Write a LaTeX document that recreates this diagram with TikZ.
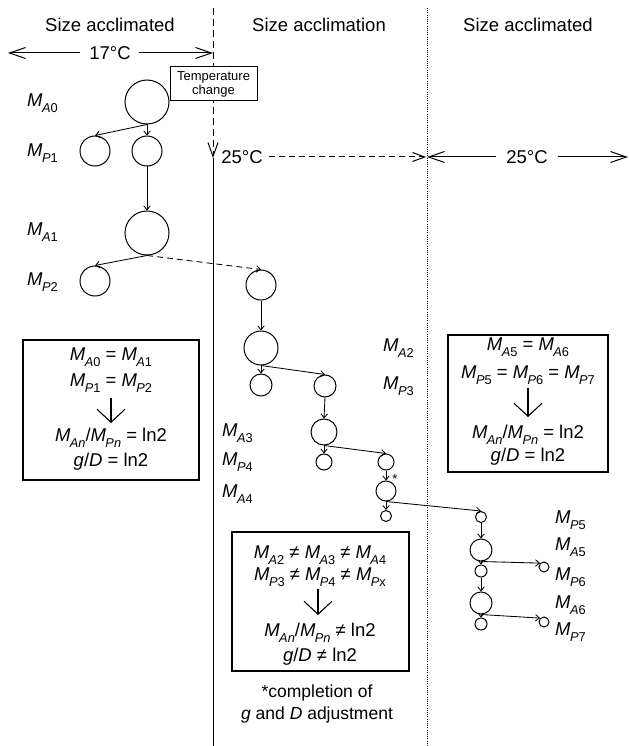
\documentclass[tikz,border=0pt]{standalone}
\usepackage{fontspec}
\setmainfont{Liberation Sans}
\usetikzlibrary{arrows.meta}
\newcommand\Ms[2]{\textit{M}\kern-0.6pt\raisebox{-0.3em}{\fontsize{12.8}{12.8}\selectfont\textit{#1}#2}}
\begin{document}
\begin{tikzpicture}[x=1pt,y=-1pt,
  every node/.style={font=\fontsize{18.5}{21}\selectfont, inner sep=0pt},
  cell/.style={draw, circle, line width=1pt, minimum size=#1, inner sep=0pt},
  cell/.default=30,
  arr/.style={line width=0.85pt, -{Straight Barb[length=4pt,width=6.5pt]}},
  lab/.style={anchor=west},
  tight/.style={text height=13.5pt, text depth=4.5pt},
  barb/.style={line width=1pt, -{Straight Barb[length=16pt,width=11pt]}},
  boxarr/.style={line width=1.1pt, -{Straight Barb[length=13pt,width=28pt]}},
  infobox/.style={draw, line width=1.1pt},
  vdash/.style={line width=1pt, dash pattern=on 7pt off 4pt},
  hdash/.style={line width=1pt, dash pattern=on 6pt off 4pt}
]
\useasboundingbox (0,0) rectangle (629,746);

% headings
\node (h1) at (110,25) {Size acclimated};
\node (h2) at (319,25) {Size acclimation};
\node (h3) at (528,25) {Size acclimated};

% vertical separators
\coordinate (vtop) at (213,8);
\coordinate (vmid) at (213,158);
\coordinate (vbot) at (213,746);
\coordinate (dtop) at (427,8);
\coordinate (dbot) at (427,746);
\draw[vdash, -{Straight Barb[length=14pt,width=10pt]}] (vtop) -- (vmid);
\draw[line width=1pt] (vmid) -- (vbot);
\draw[line width=1pt, dash pattern=on 1pt off 1.2pt] (dtop) -- (dbot);

% 17 C
\coordinate (l17) at (8,53);
\coordinate (r17) at (213,53);
\node (t17) at (110,53) {17°C};
\draw[barb] ([xshift=-9pt]t17.west) -- (l17);
\draw[barb] ([xshift=8pt]t17.east) -- (r17);

% 25 C (middle, dashed)
\coordinate (d25) at (426,157);
\node (t25a) at (242,157) {25°C};
\draw[hdash, -{Straight Barb[length=12pt,width=9pt]}] ([xshift=6pt]t25a.east) -- (d25);

% 25 C (right)
\coordinate (l25) at (427,157);
\coordinate (r25) at (628,157);
\node (t25b) at (527,157) {25°C};
\draw[barb] ([xshift=-10pt]t25b.west) -- (l25);
\draw[barb] ([xshift=10pt]t25b.east) -- (r25);

% temperature change box
\node[draw, fill=white, line width=1pt, font=\fontsize{13}{14}\selectfont, align=center,
      minimum width=87, minimum height=34] (tc) at (213.5,84) {Temperature\\change};

% cells, left column
\node[cell=44] (a0) at (147,102) {};
\node[cell=30] (p1a) at (95,151) {};
\node[cell=30] (p1b) at (147,151) {};
\node[cell=44] (a1) at (147,233) {};
\node[cell=30] (p2) at (95,281) {};

% cells, middle
\node[cell=30] (m1) at (261,285) {};
\node[cell=34] (m2) at (261,348) {};
\node[cell=22] (m2s) at (261,385) {};
\node[cell=22] (m3) at (325,386) {};
\node[cell=26] (m4) at (324,432) {};
\node[cell=16] (m4s) at (324,462) {};
\node[cell=16] (m5) at (386,462) {};
\node[cell=20] (m6) at (386,491) {};
\node[cell=11] (m6s) at (386,516) {};
\node[font=\fontsize{13}{13}\selectfont] (star) at (395,479) {*};

% cells, right
\node[cell=11] (r1) at (481,517) {};
\node[cell=22] (r2) at (481,550) {};
\node[cell=12] (r2s) at (481,571) {};
\node[cell=10] (r2r) at (544,567) {};
\node[cell=22] (r3) at (481,603) {};
\node[cell=12] (r3s) at (481,624) {};
\node[cell=10] (r3r) at (544,622) {};

% connectors
\draw[arr] (a0.south) -- (p1a.north);
\draw[arr] (a0.south) -- (p1b.north);
\draw[arr] (p1b.south) -- (a1.north);
\draw[arr] (a1.south) -- (p2.north);
\draw[arr, hdash, line width=0.85pt] (a1.south) -- (m1.north);
\draw[arr] (m1.south) -- (m2.north);
\draw[arr] (m2.south) -- (m2s.north);
\draw[arr] (m2.south) -- (m3.north);
\draw[arr] (m3.south) -- (m4.north);
\draw[arr] (m4.south) -- (m4s.north);
\draw[arr] (m4.south) -- (m5.north);
\draw[arr] (m5.south) -- (m6.north);
\draw[arr] (m6.south) -- (m6s.north);
\draw[arr] (m6.south) -- (r1.north);
\draw[arr] (r1.south) -- (r2.north);
\draw[arr] (r2.south) -- (r2s.north);
\draw[arr] (r2.south) -- (r2r.north west);
\draw[arr] (r2s.south) -- (r3.north);
\draw[arr] (r3.south) -- (r3s.north);
\draw[arr] (r3.south) -- (r3r.north west);

% labels
\node[lab] (la0) at (27,103) {\Ms{A}{0}};
\node[lab] (lp1) at (27,153) {\Ms{P}{1}};
\node[lab] (la1) at (27,232) {\Ms{A}{1}};
\node[lab] (lp2) at (27,282) {\Ms{P}{2}};
\node[lab] (la2) at (383,348) {\Ms{A}{2}};
\node[lab] (lp3) at (383,386) {\Ms{P}{3}};
\node[lab] (la3) at (222,433) {\Ms{A}{3}};
\node[lab] (lp4) at (222,462) {\Ms{P}{4}};
\node[lab] (la4) at (222,494) {\Ms{A}{4}};
\node[lab] (lp5) at (555,520) {\Ms{P}{5}};
\node[lab] (la5) at (555,547) {\Ms{A}{5}};
\node[lab] (lp6) at (555,577) {\Ms{P}{6}};
\node[lab] (la6) at (555,605) {\Ms{A}{6}};
\node[lab] (lp7) at (555,632) {\Ms{P}{7}};

% left box
\node[infobox, minimum width=176, minimum height=140] (box1) at (111,410) {};
\node (b1l1) at (111,357) {\Ms{A}{0} = \Ms{A}{1}};
\node (b1l2) at (111,383) {\Ms{P}{1} = \Ms{P}{2}};
\coordinate (b1at) at (111,398);
\coordinate (b1ab) at (111,423);
\draw[boxarr] (b1at) -- (b1ab);
\node (b1l3) at (111,438) {\Ms{An}{}/\Ms{Pn}{} = ln2};
\node (b1l4) at (111,462) {\textit{g}/\textit{D} = ln2};

% right box
\node[infobox, minimum width=160, minimum height=137] (box3) at (528,403.5) {};
\node (b3l1) at (528,347) {\Ms{A}{5} = \Ms{A}{6}};
\node (b3l2) at (528,375) {\Ms{P}{5} = \Ms{P}{6} = \Ms{P}{7}};
\coordinate (b3at) at (528,388);
\coordinate (b3ab) at (528,417);
\draw[boxarr] (b3at) -- (b3ab);
\node (b3l3) at (528,435) {\Ms{An}{}/\Ms{Pn}{} = ln2};
\node (b3l4) at (528,457) {\textit{g}/\textit{D} = ln2};

% middle box
\node[infobox, minimum width=177, minimum height=139] (box2) at (320.5,601.5) {};
\node[tight] (b2l1) at (320,554) {\Ms{A}{2} ≠ \Ms{A}{3} ≠ \Ms{A}{4}};
\node[tight] (b2l2) at (320,576) {\Ms{P}{3} ≠ \Ms{P}{4} ≠ \Ms{P}{x}};
\coordinate (b2at) at (318,589);
\coordinate (b2ab) at (318,615);
\draw[boxarr] (b2at) -- (b2ab);
\node[tight] (b2l3) at (320,632) {\Ms{An}{}/\Ms{Pn}{} ≠ ln2};
\node[tight] (b2l4) at (320,657) {\textit{g}/\textit{D} ≠ ln2};

% footnote
\node[font=\fontsize{17.5}{20}\selectfont] (c1) at (317,693) {*completion of};
\node[font=\fontsize{17.5}{20}\selectfont] (c2) at (317,715) {\textit{g} and \textit{D} adjustment};
\end{tikzpicture}
\end{document}
